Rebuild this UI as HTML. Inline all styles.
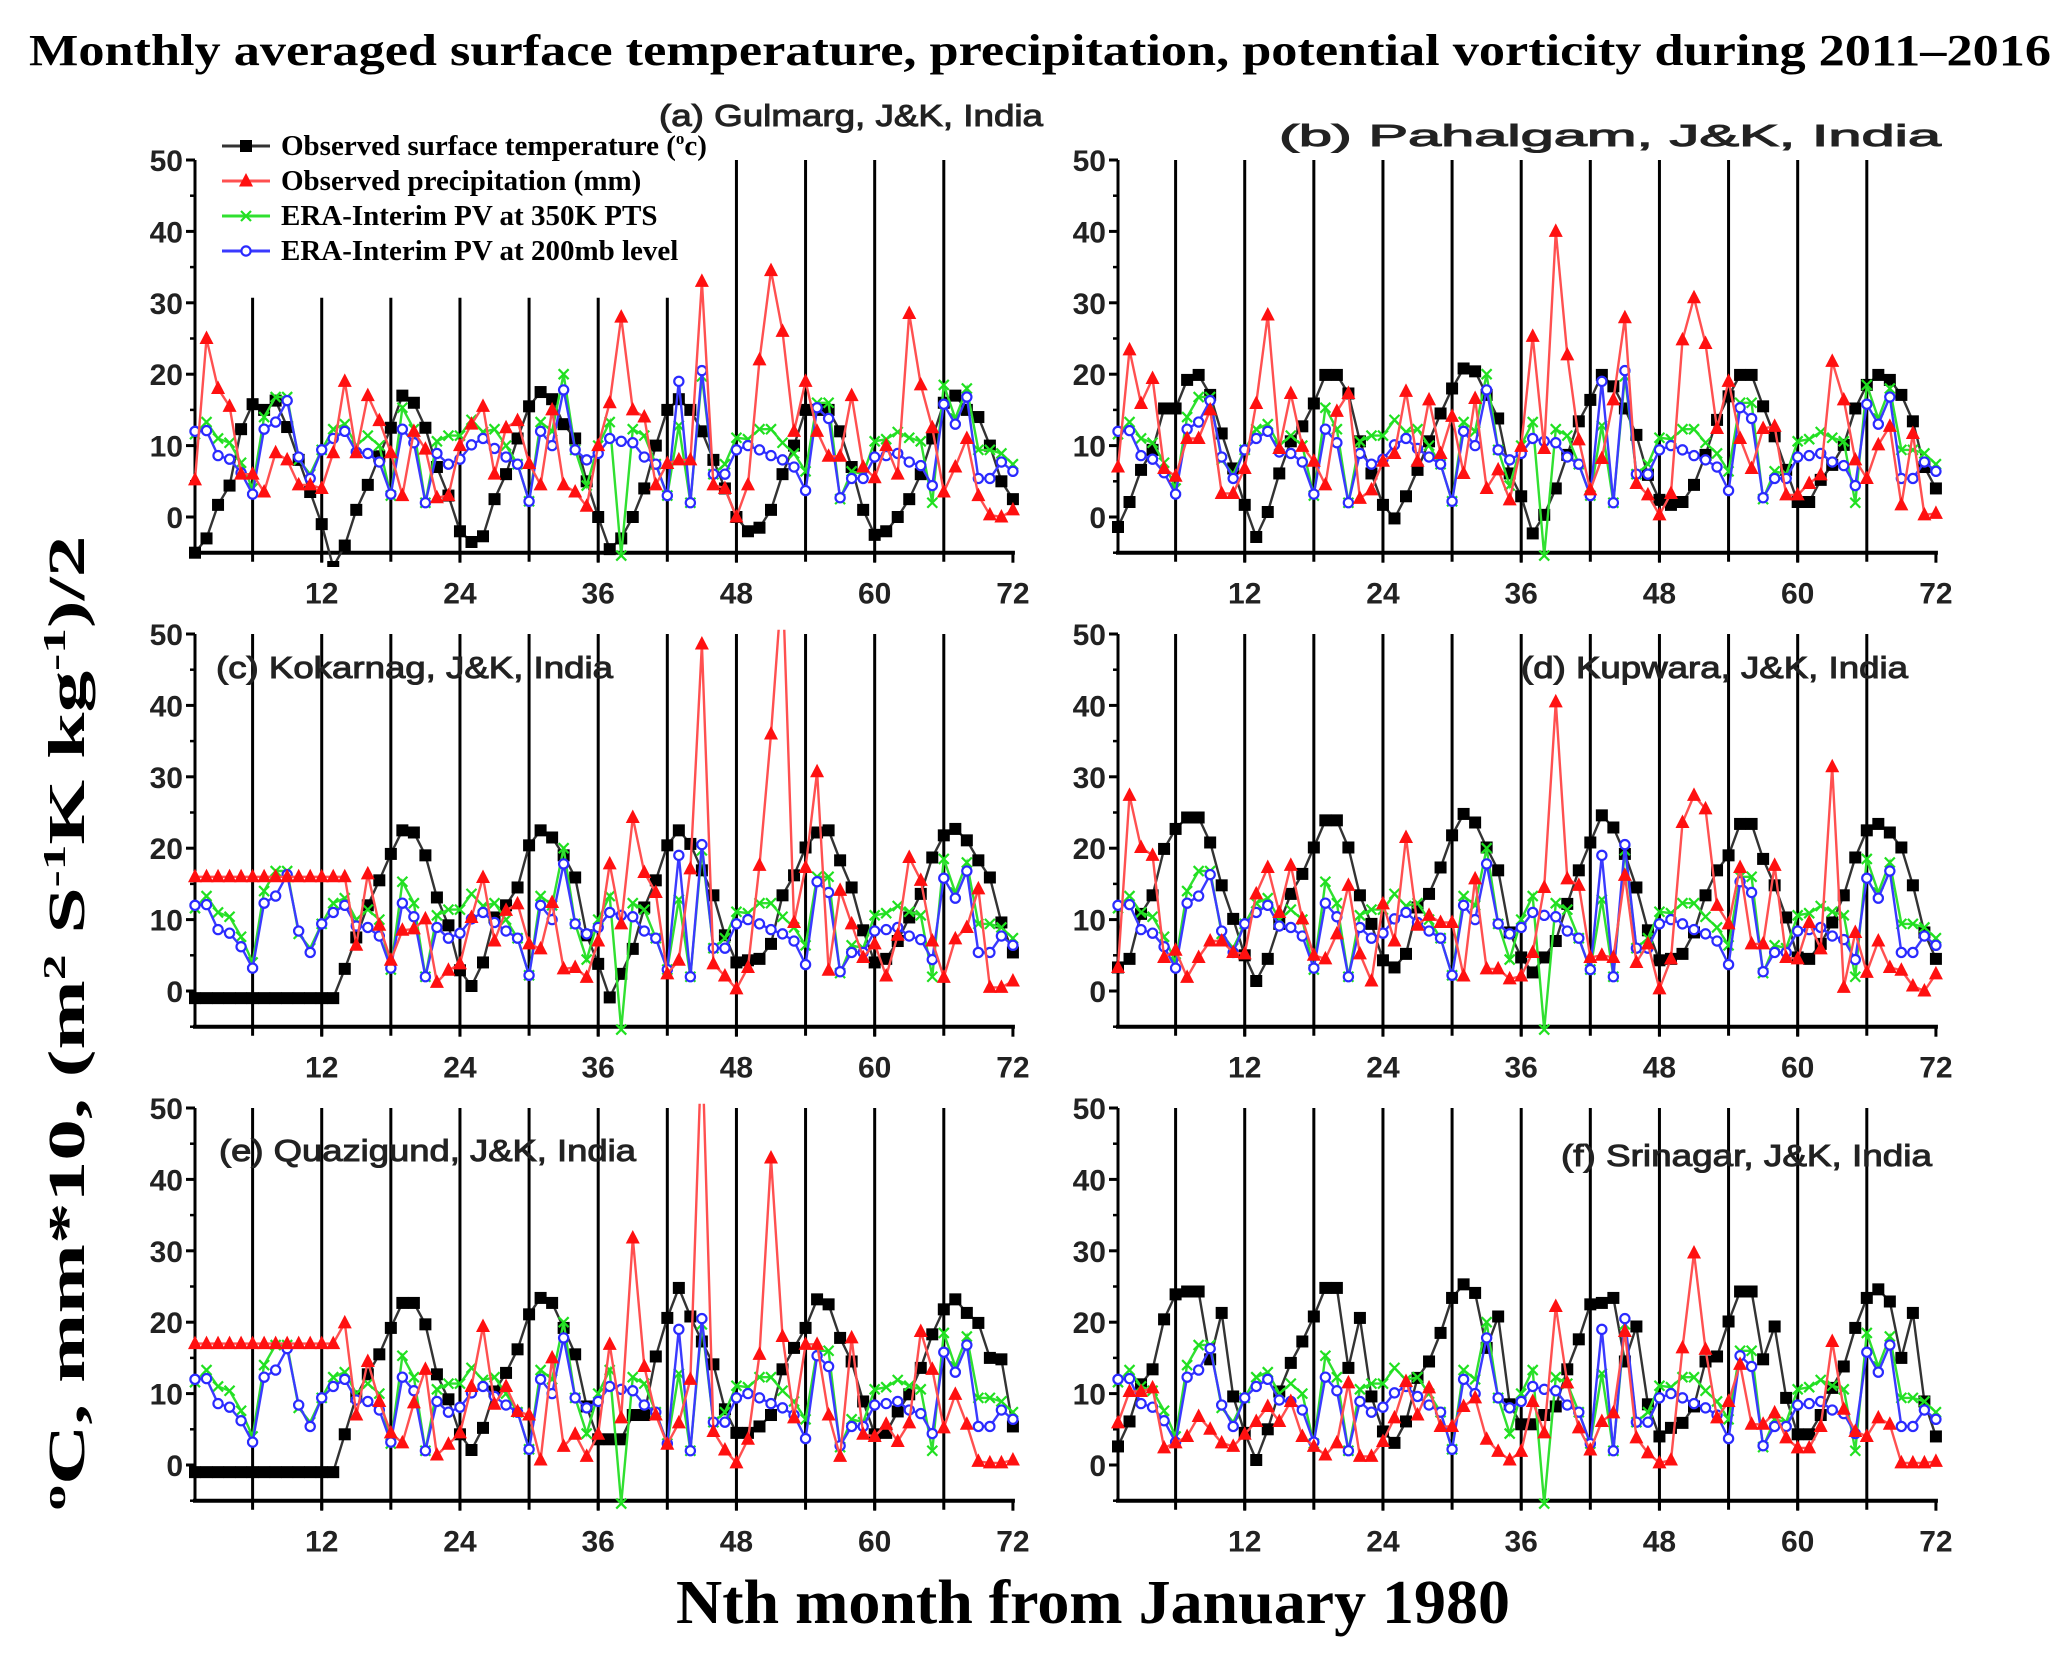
<!DOCTYPE html>
<html><head><meta charset="utf-8"><style>
html,body{margin:0;padding:0;background:#fff;}
svg{display:block;}
</style></head><body>
<svg id="fig" width="2067" height="1653" viewBox="0 0 2067 1653" xmlns="http://www.w3.org/2000/svg">
<rect x="0" y="0" width="2067" height="1653" fill="#fff"/>
<text x="29" y="65" font-family="'Liberation Serif',serif" font-weight="bold" font-size="44" textLength="2022" lengthAdjust="spacingAndGlyphs">Monthly averaged surface temperature, precipitation, potential vorticity during 2011–2016</text>
<text transform="translate(84,1023) rotate(-90)" text-anchor="middle" font-family="'Liberation Serif',serif" font-weight="bold" font-size="52" textLength="975" lengthAdjust="spacingAndGlyphs"><tspan font-size="32" dy="-19">o</tspan><tspan dy="19">C, mm*10, (m</tspan><tspan font-size="32" dy="-19">2</tspan><tspan dy="19"> S</tspan><tspan font-size="32" dy="-19">-1</tspan><tspan dy="19">K kg</tspan><tspan font-size="32" dy="-19">-1</tspan><tspan dy="19">)/2</tspan></text>
<text x="1093" y="1623" text-anchor="middle" font-family="'Liberation Serif',serif" font-weight="bold" font-size="62" textLength="834" lengthAdjust="spacingAndGlyphs">Nth month from January 1980</text>
<g id="panels"></g>
<g id="legend"></g>
</svg>
<script>
// Shared ERA-Interim PV series (72 months)
const pv350 = [11.6,13.3,11,10.4,7.6,4,14,16.8,16.8,8,6,9.4, 12.3,13,10,11.4,10,3,15.3,12.3,2,10.6,11.4,11.4, 13.6,11.9,12.3,10,7.4,2.2,13.3,12,20,9.4,4.4,10, 13.3,-5.4,12.3,11.4,7.4,3,12.8,2,19.7,6,7.4,11.1, 10.9,12.3,12.3,10.4,8.9,6.4,16,16,2.5,6.4,6,10.6, 10.9,11.9,11.1,10.6,2,18.5,13.8,18,9.4,9.4,8.9,7.4];
const pv200 = [12,12.1,8.6,8.1,6.2,3.2,12.3,13.3,16.3,8.4,5.4,9.4, 11,12,9.1,8.9,7.7,3.2,12.3,10.4,2,8.9,7.4,8.1, 10.1,11,9.6,8.4,7.4,2.2,12,10,17.8,9.4,8,8.9, 11,10.6,10.4,8.4,7.4,3,19,2,20.5,6,6,9.4, 10,9.4,8.6,8,7,3.7,15.3,13.8,2.7,5.4,5.4,8.4, 8.6,8.9,7.7,7.2,4.4,15.8,13,16.8,5.4,5.4,7.7,6.4];

const tempA = [-5,-3,1.7,4.4,12.3,15.8,15,16.3,12.6,8,3.5,-1, -7,-4,1,4.5,8.5,12.5,17,16,12.5,7,3,-2, -3.5,-2.7,2.5,6,11,15.5,17.5,16.5,13,11,5,0, -4.5,-3,0,4,10,15,16.5,15,12,8,4,0, -2,-1.5,1,6,10,15,15,15,12,7,1,-2.5, -2,0,2.5,6,11,16,17,15,14,10,5,2.5];
const precA = [5.2,25,18,15.5,6,6,3.5,9,8,4.5,4.5,4, 9,19,9,17,13.5,9,3,12,9.5,2.7,3,10, 13,15.5,6,12.5,13.5,7.5,4.5,15,4.5,3.5,1.5,10, 16,28,15,14,4.5,7.5,8,8,33,4.5,4,0, 4.5,22,34.5,26,12,19,12,8.5,8.5,17,7,5.5, 10,6,28.5,18.5,12.5,3.5,7,11,3,0.3,0,1];
const tempB = [-1.4,2.1,6.6,9.4,15.2,15.2,19.2,19.9,17.1,11.7,6.8,1.7, -2.8,0.7,6.1,10.6,12.7,15.9,19.9,19.9,17.3,10.6,6.1,1.7, -0.2,2.9,6.6,10.6,14.5,18,20.8,20.4,17.1,13.8,6.1,2.9, -2.3,0.3,4,8.7,13.4,16.4,19.9,18.3,15.2,11.5,5.9,2.4, 1.7,2.1,4.5,8.7,13.6,16.9,19.9,19.9,15.5,11.3,6.6,2.1, 2.1,5.2,7.3,10.1,15.2,18.5,19.9,19.2,17.1,13.4,7,4];
const precB = [7,23.4,15.9,19.4,6.8,5.7,11,11,15,3.3,3.3,6.8, 15.9,28.3,9.6,17.3,9.9,7.8,4.5,14.8,17.3,2.6,3.8,7.8, 8.9,17.6,7.8,16.4,8.9,14.1,6.1,16.6,4,6.6,2.4,9.9, 25.3,9.6,40,22.7,10.8,3.8,8.2,16.4,27.9,4.7,3.1,0.3, 3.3,24.8,30.7,24.3,12.4,19,11,6.8,12.4,12.7,3.1,3.1, 4.7,5.9,21.8,16.4,8,5.4,10.1,12.7,1.7,11.7,0.3,0.5];
const tempC = [-1,-1,-1,-1,-1,-1,-1,-1,-1,-1,-1,-1, -1,3.1,7.5,12,15.5,19.2,22.5,22.2,19,13.1,9.2,2.9, 0.7,4,10.3,12,14.5,20.4,22.5,21.5,19,15.9,7.8,3.8, -0.9,2.4,5.9,11.7,15.5,20.4,22.5,20.6,16.9,13.4,7.8,4, 4.3,4.5,6.6,13.4,16.2,20.1,22.2,22.5,18.3,14.5,8.5,4, 4.5,7,10.3,13.6,18.7,21.8,22.7,21.1,18.3,15.9,9.6,5.4];
const precC = [16,16,16,16,16,16,16,16,16,16,16,16, 16,16,6.4,16.4,9.2,4.3,8.5,8.7,10.1,1.2,2.9,3.8, 10.3,15.9,7,11.3,12.2,6.6,5.9,12.4,3.1,3.3,1.9,7, 17.8,9.4,24.3,16.6,13.8,2.4,4.3,17.1,48.6,3.8,2.1,0.3, 3.3,17.6,36,58,9.6,17.3,30.7,2.9,14.1,9.4,4.7,6.6, 2.1,7.8,18.7,15.5,7,1.9,7.3,8.9,14.3,0.5,0.5,1.4];
const tempD = [3.3,4.5,10.8,13.4,19.9,22.7,24.3,24.3,20.8,14.8,10.1,5, 1.4,4.5,9.4,13.6,16.4,20.1,23.9,23.9,20.1,13.4,9.4,4.3, 3.3,5.2,11.7,13.6,17.3,21.8,24.8,23.6,20.1,16.9,8.2,4.7, 2.6,4.7,7,12.2,16.9,20.8,24.6,22.9,19.2,14.5,8.5,4.3, 4.5,5.2,8.2,13.4,16.9,19,23.4,23.4,18.5,14.8,10.3,4.7, 4.5,6.6,9.6,13.4,18.7,22.5,23.4,22.2,20.1,14.8,8.2,4.5];
const precD = [3.3,27.4,20.1,19,4.7,5.7,1.9,4.7,7,7,5.4,5.2, 13.6,17.3,11,17.6,10.1,5,4.5,8,14.8,5.2,1.4,12.2, 7,21.5,9.2,10.6,9.6,9.6,2.1,15.7,3.1,3.1,1.7,2.1, 5.4,14.5,40.5,15.7,14.8,4.7,5,4.7,16.2,4,6.6,0.3, 4.5,23.6,27.4,25.5,12,9.4,17.3,6.6,6.6,17.6,4.7,4.5, 9.6,5.9,31.4,0.5,8.2,2.6,7,3.3,2.9,0.7,0,2.4];
const tempE = [-1,-1,-1,-1,-1,-1,-1,-1,-1,-1,-1,-1, -1,4.3,9.6,12.7,15.5,19.2,22.7,22.7,19.7,12.7,9.2,4.3, 2.1,5.2,10.3,12.9,16.2,21.1,23.4,22.7,19.2,15.5,8.2,3.6, 3.6,3.6,7,7,15.2,20.6,24.8,20.8,17.3,14.1,7.8,4.5, 4.5,5.4,7,13.4,16.4,19.2,23.2,22.5,17.8,14.5,8.9,4.3, 4.5,7.5,9.9,13.6,18.3,21.8,23.2,21.3,19.9,15,14.8,5.4];
const precE = [17,17,17,17,17,17,17,17,17,17,17,17, 17,19.9,7,14.5,8.9,4.5,3.1,8.7,13.4,1.4,2.9,4.5, 11,19.4,8.5,11,7.5,7,0.7,15,2.6,4.3,1.2,4.3, 16.9,6.6,31.8,13.8,7,2.9,5.9,12,60,4.7,2.1,0.3, 3.6,15.5,43,18,6.6,16.9,16.9,7,1.2,17.8,4.3,4, 5.7,3.3,5.9,18.7,13.4,5.2,9.9,5.7,0.5,0.3,0.3,0.7];
const tempF = [2.6,6.1,11.3,13.4,20.4,23.9,24.3,24.3,14.8,21.3,9.6,4.5, 0.7,5,10.3,14.3,17.3,20.8,24.8,24.8,13.6,20.6,9.6,4.7, 3.1,6.1,12.2,14.5,18.5,23.4,25.3,24.1,16.4,20.8,8.5,5.7, 5.7,7,8.2,13.4,17.6,22.5,22.7,23.4,14.5,19.4,8.5,4, 5.2,5.9,8.2,14.5,15.2,20.1,24.3,24.3,14.8,19.4,9.4,4.3, 4.3,7,10.8,13.8,19.2,23.4,24.6,22.9,15,21.3,8.9,4];
const precF = [5.9,10.3,10.3,10.8,2.4,3.1,4,6.8,5,3.1,2.6,4.3, 6.1,8.2,6.1,8.9,4,2.6,1.4,3.1,11.5,1.2,1.2,3.3, 6.6,11.7,7,10.8,5.4,5.4,8.2,9.4,3.6,1.9,0.7,1.9, 8.9,4.5,22.2,11.5,5.2,2.1,6.1,7.3,18.7,3.8,1.7,0.3, 0.7,16.4,29.7,16.2,6.6,8.9,14.1,5.7,5.7,7.3,3.8,2.4, 2.4,5.4,17.3,7.8,4.7,4,6.6,5.7,0.3,0.3,0.3,0.5];

const yTicks = [0,10,20,30,40,50];
const xTicks = [12,24,36,48,60,72];
const sepMonths = [6,12,18,24,30,36,42,48,54,60,66];
const panelTitles = ["(a) Gulmarg, J&K, India","(b) Pahalgam, J&K, India","(c) Kokarnag, J&K, India","(d) Kupwara, J&K, India","(e) Quazigund, J&K, India","(f) Srinagar, J&K, India"];
const panelTemps = [tempA,tempB,tempC,tempD,tempE,tempF];
const panelPrecs = [precA,precB,precC,precD,precE,precF];
const legendLabels = ["Observed surface temperature (","Observed precipitation (mm)","ERA-Interim PV at 350K PTS","ERA-Interim PV at 200mb level"];

const NS = "http://www.w3.org/2000/svg";
function mk(tag, attrs, parent){const e=document.createElementNS(NS,tag);for(const k in attrs)e.setAttribute(k,attrs[k]);if(parent)parent.appendChild(e);return e;}

const colX = [195,1118];
const rowZero = [517,991,1465];
const PXM = 11.52, PXV = 7.14;
const titlePos = [
 {x:1043,y:126,a:"end",L:384},{x:1941,y:146,a:"end",L:662},
 {x:216,y:678,a:"start",L:397},{x:1521,y:678,a:"start",L:387},
 {x:219,y:1161,a:"start",L:417},{x:1561,y:1166,a:"start",L:371}];

function marker(g, type, cx, cy){
  let e;
  if(type==="sq"){e=mk("rect",{x:cx-6,y:cy-6,width:12,height:12,fill:"#000"},g);}
  else if(type==="tri"){e=mk("polygon",{points:`${cx},${cy-8} ${cx-7},${cy+5.5} ${cx+7},${cy+5.5}`,fill:"#ff1010"},g);}
  else if(type==="x"){e=mk("path",{d:`M${cx-5},${cy-5}L${cx+5},${cy+5}M${cx-5},${cy+5}L${cx+5},${cy-5}`,stroke:"#20e020","stroke-width":2.2,fill:"none"},g);}
  else {e=mk("circle",{cx:cx,cy:cy,r:4.6,fill:"#fff",stroke:"#2a2aff","stroke-width":2.2},g);}
  return e;
}

const panelsG = document.getElementById("panels");
for(let p=0;p<6;p++){
  const x0 = colX[p%2], z = rowZero[Math.floor(p/2)];
  const xs = m => x0 + (m-1)*PXM;
  const ys = v => z - v*PXV;
  const g = mk("g",{},panelsG);
  
  
  const cid = "clip"+p;
  const cp = mk("clipPath",{id:cid},g);
  mk("rect",{x:x0-10,y:ys(50.6),width:840,height:ys(-7)-ys(50.6)},cp);

  sepMonths.forEach(m=>{
    const top = (p===0 && m<=42) ? ys(30.7) : ys(50);
    const l = mk("line",{x1:xs(m),x2:xs(m),y1:top,y2:ys(-5)+9,stroke:"#000","stroke-width":3},g);
    
    
  });
  const ya = mk("line",{x1:x0,x2:x0,y1:ys(50),y2:ys(-5),stroke:"#000","stroke-width":3},g);
  
  
  const xa = mk("line",{x1:x0-2,x2:xs(72)+2,y1:ys(-5),y2:ys(-5),stroke:"#000","stroke-width":4},g);
  
  
  yTicks.forEach(v=>{
    mk("line",{x1:x0-9,x2:x0,y1:ys(v),y2:ys(v),stroke:"#000","stroke-width":3},g);
    mk("line",{x1:x0-5,x2:x0,y1:ys(v-5),y2:ys(v-5),stroke:"#000","stroke-width":2.5},g);
    const t = mk("text",{x:x0-12,y:ys(v)+11,"text-anchor":"end","font-family":"'Liberation Sans',sans-serif","font-weight":"bold","font-size":30,fill:"#222"},g);
    t.textContent = String(v);
    
    
  });
  xTicks.forEach(m=>{
    mk("line",{x1:xs(m),x2:xs(m),y1:ys(-5),y2:ys(-5)+10,stroke:"#000","stroke-width":3},g);
    const t = mk("text",{x:xs(m),y:ys(-5)+51,"text-anchor":"middle","font-family":"'Liberation Sans',sans-serif","font-weight":"bold","font-size":30,fill:"#222"},g);
    t.textContent = String(m);
    
    
  });
  const tp = titlePos[p];
  const tt = mk("text",{x:tp.x,y:tp.y,"text-anchor":tp.a,"font-family":"'Liberation Sans',sans-serif","font-size":31,fill:"#222",stroke:"#222","stroke-width":1,textLength:tp.L,lengthAdjust:"spacingAndGlyphs"},g);
  tt.textContent = panelTitles[p];
  
  

  const series = [
    {d:panelTemps[p], lc:"#333", m:"sq", n:"temperature-series"},
    {d:pv350, lc:"#30e030", m:"x", n:"pv-350k-series"},
    {d:pv200, lc:"#3a3aff", m:"o", n:"pv-200mb-series"},
    {d:panelPrecs[p], lc:"#ff5050", m:"tri", n:"precipitation-series"}
  ];
  series.forEach(s=>{
    const sg = mk("g",{"clip-path":`url(#${cid})`},g);
    
    
    const pts = s.d.map((v,i)=>`${xs(i+1).toFixed(1)},${ys(v).toFixed(1)}`).join(" ");
    const pl = mk("polyline",{points:pts,fill:"none",stroke:s.lc,"stroke-width":2.4},sg);
    
    
    s.d.forEach((v,i)=>{
      const mkr = marker(sg, s.m, xs(i+1), ys(v));
      
      
    });
  });
}

const lg = document.getElementById("legend");
const legCols = [["#333","sq"],["#ff5050","tri"],["#30e030","x"],["#3a3aff","o"]];
const legBase = [155,190,225,260];
legendLabels.forEach((lab,i)=>{
  const eg = mk("g",{},lg);
  
  
  const cy = legBase[i]-9;
  mk("line",{x1:222,x2:270,y1:cy,y2:cy,stroke:legCols[i][0],"stroke-width":3},eg);
  const m = marker(eg, legCols[i][1], 246, cy);
  
  
  const t = mk("text",{x:281,y:legBase[i],"font-family":"'Liberation Serif',serif","font-weight":"bold","font-size":29,fill:"#000"},eg);
  t.textContent = lab;
  if(i===0){
    const s1 = mk("tspan",{"font-size":17,dy:-11},t); s1.textContent="o";
    const s2 = mk("tspan",{dy:11},t); s2.textContent="c)";
  }
  
  
});
</script>
</body></html>
